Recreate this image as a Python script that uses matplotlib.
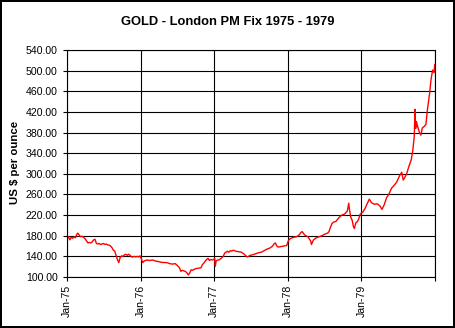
import pandas as pd
import matplotlib.pyplot as plt
import matplotlib.dates as mdates
from matplotlib.ticker import FormatStrFormatter

plt.rcParams['font.family'] = ['Liberation Sans', 'DejaVu Sans']

#%% data (London PM fix, US$ per ounce)
dates_1975 = ['1975-01-02', '1975-01-08', '1975-01-15', '1975-01-22', '1975-01-29',
              '1975-02-05', '1975-02-12', '1975-02-19', '1975-02-24', '1975-03-03',
              '1975-03-10', '1975-03-17', '1975-03-24', '1975-04-01', '1975-04-08',
              '1975-04-15', '1975-04-22', '1975-04-29', '1975-05-06', '1975-05-13',
              '1975-05-20', '1975-05-27', '1975-06-03', '1975-06-10', '1975-06-17',
              '1975-06-24', '1975-07-01', '1975-07-08', '1975-07-15', '1975-07-22',
              '1975-07-29', '1975-08-05', '1975-08-12', '1975-08-19', '1975-08-26',
              '1975-09-02', '1975-09-09', '1975-09-15', '1975-09-22', '1975-09-29',
              '1975-10-06', '1975-10-13', '1975-10-20', '1975-10-27', '1975-11-03',
              '1975-11-10', '1975-11-17', '1975-11-24', '1975-12-01', '1975-12-08',
              '1975-12-15', '1975-12-22', '1975-12-29']
price_1975 = [175, 178, 172, 177, 175, 178, 176, 183, 185, 181,
              178, 179, 177, 174, 170, 166, 167, 166, 168, 172,
              173, 165, 164, 165, 163, 164, 165, 163, 164, 162,
              162, 160, 157, 152, 150, 141, 133, 128, 138, 141,
              140, 143, 144, 142, 144, 142, 139, 139, 140, 139,
              140, 139, 141]

dates_1976 = ['1976-01-05', '1976-01-12', '1976-01-19', '1976-01-26', '1976-02-02',
              '1976-02-16', '1976-03-01', '1976-03-15', '1976-03-29', '1976-04-12',
              '1976-04-26', '1976-05-10', '1976-05-24', '1976-06-07', '1976-06-21',
              '1976-07-05', '1976-07-12', '1976-07-19', '1976-07-26', '1976-08-09',
              '1976-08-16', '1976-08-25', '1976-09-01', '1976-09-08', '1976-09-15',
              '1976-09-29', '1976-10-13', '1976-10-27', '1976-11-03', '1976-11-10',
              '1976-11-17', '1976-11-24', '1976-12-01', '1976-12-08', '1976-12-15',
              '1976-12-22', '1976-12-29']
price_1976 = [135, 128, 131, 132, 133, 132, 133, 131, 130, 128.5,
              128, 128, 126, 125, 126, 121, 118, 111, 113, 111,
              109, 104, 108, 114, 113, 116, 117, 118, 124, 127,
              131, 134, 136, 132, 134, 133, 134]

dates_1977 = ['1977-01-03', '1977-01-06', '1977-01-10', '1977-01-17', '1977-01-24',
              '1977-01-31', '1977-02-07', '1977-02-14', '1977-02-21', '1977-02-28',
              '1977-03-07', '1977-03-14', '1977-03-21', '1977-03-28', '1977-04-04',
              '1977-04-18', '1977-05-02', '1977-05-16', '1977-05-30', '1977-06-06',
              '1977-06-13', '1977-06-20', '1977-06-27', '1977-07-11', '1977-07-25',
              '1977-08-08', '1977-08-22', '1977-09-05', '1977-09-19', '1977-10-03',
              '1977-10-17', '1977-10-24', '1977-10-31', '1977-11-07', '1977-11-14',
              '1977-11-28', '1977-12-12', '1977-12-26']
price_1977 = [136, 121, 131, 133, 133, 135, 137, 140, 146, 148,
              150, 148, 151, 150, 152, 150, 149, 148, 144, 141,
              139, 140, 142, 143, 145, 147, 148, 151, 154, 156,
              160, 164, 166, 160, 158, 159, 160, 161]

dates_1978 = ['1978-01-03', '1978-01-09', '1978-01-16', '1978-01-30', '1978-02-13',
              '1978-02-27', '1978-03-06', '1978-03-13', '1978-03-20', '1978-03-27',
              '1978-04-10', '1978-04-24', '1978-04-28', '1978-05-08', '1978-05-22',
              '1978-06-05', '1978-06-19', '1978-07-03', '1978-07-17', '1978-07-24',
              '1978-07-31', '1978-08-07', '1978-08-14', '1978-08-28', '1978-09-11',
              '1978-09-25', '1978-10-09', '1978-10-23', '1978-10-30', '1978-11-02',
              '1978-11-09', '1978-11-16', '1978-11-22', '1978-11-27', '1978-12-04',
              '1978-12-11', '1978-12-18', '1978-12-26']
price_1978 = [170, 173, 175, 177, 178, 182, 186, 188, 184, 181,
              178, 170, 163, 172, 176, 178, 180, 183, 185, 188,
              196, 203, 206, 208, 215, 220, 222, 228, 243, 232,
              216, 210, 198, 194, 205, 207, 212, 222]

dates_1979 = ['1979-01-08', '1979-01-19', '1979-02-02', '1979-02-09', '1979-02-20',
              '1979-03-06', '1979-03-20', '1979-04-02', '1979-04-13', '1979-04-24',
              '1979-05-05', '1979-05-19', '1979-05-30', '1979-06-13', '1979-06-25',
              '1979-07-09', '1979-07-20', '1979-07-27', '1979-08-03', '1979-08-14',
              '1979-08-25', '1979-09-05', '1979-09-13', '1979-09-20', '1979-09-24',
              '1979-09-27', '1979-10-01', '1979-10-08', '1979-10-16', '1979-10-23',
              '1979-10-30', '1979-11-09', '1979-11-17', '1979-11-24', '1979-12-05',
              '1979-12-12', '1979-12-20', '1979-12-27', '1979-12-31']
price_1979 = [226, 233, 245, 251, 244, 241, 242, 238, 231, 240,
              253, 262, 272, 278, 284, 296, 303, 288, 292, 301,
              315, 327, 346, 372, 425, 388, 401, 390, 380, 375,
              389, 392, 396, 423, 455, 482, 501, 496, 512]

year_ticks = ['1975-01-01', '1976-01-01', '1977-01-01', '1978-01-01', '1979-01-01', '1980-01-01']
year_labels = ['Jan-75', 'Jan-76', 'Jan-77', 'Jan-78', 'Jan-79', '']
y_ticks = [100, 140, 180, 220, 260, 300, 340, 380, 420, 460, 500, 540]

#%%
gold = pd.DataFrame({
    'date': pd.to_datetime(dates_1975 + dates_1976 + dates_1977 + dates_1978 + dates_1979),
    'price': price_1975 + price_1976 + price_1977 + price_1978 + price_1979,
})

fig = plt.figure(figsize=(4.55, 3.28), dpi=100)
fig.patch.set_facecolor('white')
fig.patch.set_edgecolor('black')
fig.patch.set_linewidth(1.6)

ax = fig.add_axes([67 / 455, 1 - 277 / 328, 368 / 455, 227 / 328])
ax.plot(gold['date'], gold['price'], color='#ff0000', linewidth=1.0)

# axes limits and ticks
ax.set_xlim(pd.Timestamp(year_ticks[0]), pd.Timestamp(year_ticks[-1]))
ax.set_ylim(y_ticks[0], y_ticks[-1])
ax.set_xticks(pd.to_datetime(year_ticks))
ax.set_xticklabels(year_labels, rotation=90, fontsize=7.6)
ax.set_yticks(y_ticks)
ax.yaxis.set_major_formatter(FormatStrFormatter('%.2f'))
ax.tick_params(axis='y', labelsize=7.6, length=3, width=0.8, pad=3.8, direction='out')
ax.tick_params(axis='x', length=3, width=0.8, pad=2.5, direction='out')

# black grid like the old spreadsheet chart
ax.grid(True, color='black', linewidth=0.8)
ax.set_axisbelow(True)
for sp in ax.spines.values():
    sp.set_color('black')
    sp.set_linewidth(0.8)

fig.text(0.5, 1 - 22 / 328, 'GOLD - London PM Fix 1975 - 1979',
         ha='center', va='center', fontsize=9.3, fontweight='bold')
fig.text(15 / 455, 1 - 162 / 328, 'US $ per ounce', rotation=90,
         ha='center', va='center', fontsize=8.2, fontweight='bold')

plt.savefig('out.png', dpi=100)
plt.close()
